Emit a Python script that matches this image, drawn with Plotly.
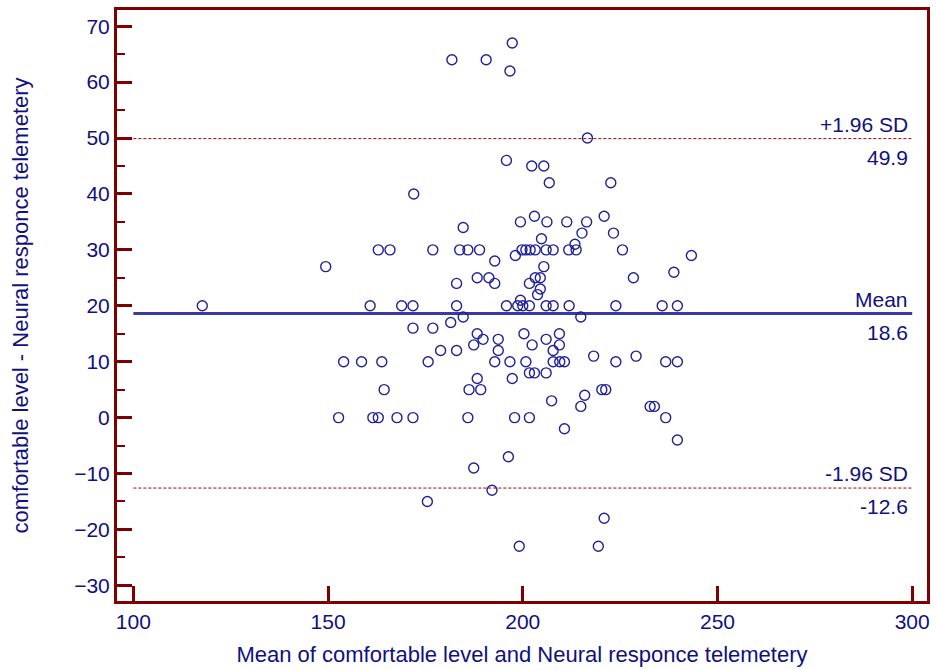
import plotly.graph_objects as go

# Bland-Altman data: mean (x) and difference (y)
x_mean = [
    197.3, 181.8, 190.6, 196.7, 216.6, 195.8, 202.3, 205.4, 206.8, 222.6,
    172.0, 203.0, 220.9, 184.7, 199.4, 206.2, 211.3, 216.4, 215.2, 223.3,
    204.8, 213.4,
    162.9, 165.9, 176.9, 183.8, 185.9, 188.9, 199.8, 200.8, 201.9, 203.2,
    206.0, 207.8, 211.8, 213.7, 225.6,
    198.1, 243.3, 192.8, 149.4, 205.4, 238.8,
    188.3, 191.3, 203.2, 204.5, 228.4,
    183.0, 192.8, 201.7, 204.5, 203.8, 199.4,
    117.7, 160.8, 168.9, 171.8, 183.0, 195.8, 198.7, 200.0, 201.7, 206.0,
    207.8, 211.9, 223.9, 235.8, 239.7,
    184.7, 214.9, 181.5, 171.8, 176.9,
    188.3, 200.3, 209.4, 189.8, 193.7, 206.0, 187.4, 202.4, 209.4,
    178.9, 183.0, 193.7, 207.8, 218.2, 229.1,
    154.0, 158.6, 163.8, 175.7, 192.8, 196.7, 200.8, 207.8, 209.5, 210.7,
    223.9, 236.7, 239.7,
    201.7, 203.0, 206.0, 188.3, 197.3,
    164.4, 186.2, 189.2, 220.3, 221.3, 215.9, 207.4, 214.9, 232.7, 233.8,
    152.7, 161.5, 162.9, 167.7, 171.8, 185.9, 197.9, 201.7, 236.7,
    210.7, 239.7, 196.3, 187.4, 192.1, 175.5, 220.9, 199.1, 219.4,
]
y_diff = [
    67, 64, 64, 62, 50, 46, 45, 45, 42, 42,
    40, 36, 36, 34, 35, 35, 35, 35, 33, 33,
    32, 31,
    30, 30, 30, 30, 30, 30, 30, 30, 30, 30,
    30, 30, 30, 30, 30,
    29, 29, 28, 27, 27, 26,
    25, 25, 25, 25, 25,
    24, 24, 24, 23, 22, 21,
    20, 20, 20, 20, 20, 20, 20, 20, 20, 20,
    20, 20, 20, 20, 20,
    18, 18, 17, 16, 16,
    15, 15, 15, 14, 14, 14, 13, 13, 13,
    12, 12, 12, 12, 11, 11,
    10, 10, 10, 10, 10, 10, 10, 10, 10, 10,
    10, 10, 10,
    8, 8, 8, 7, 7,
    5, 5, 5, 5, 5, 4, 3, 2, 2, 2,
    0, 0, 0, 0, 0, 0, 0, 0, 0,
    -2, -4, -7, -9, -13, -15, -18, -23, -23,
]

mean_diff = 18.6
upper_loa = 49.9
lower_loa = -12.6
line_x = [100, 300]

x_ticks = [100, 150, 200, 250, 300]
y_ticks = [-30, -20, -10, 0, 10, 20, 30, 40, 50, 60, 70]

NAVY = "#10107f"
MAROON = "#800000"
FONT = "Liberation Sans, Arial, sans-serif"

fig = go.Figure()

for lv in (upper_loa, lower_loa):
    fig.add_trace(go.Scatter(
        x=line_x, y=[lv, lv], mode="lines",
        line=dict(color="#a80000", width=1, dash="3px,2px"),
        hoverinfo="skip", showlegend=False))
fig.add_trace(go.Scatter(
    x=line_x, y=[mean_diff, mean_diff], mode="lines",
    line=dict(color="#3a3aa4", width=3),
    hoverinfo="skip", showlegend=False))

fig.add_trace(go.Scatter(
    x=x_mean, y=y_diff, mode="markers",
    marker=dict(symbol="circle-open", size=10, color="#20209a",
                line=dict(width=1.4, color="#20209a")),
    showlegend=False))

def label(text, y, above):
    fig.add_annotation(
        x=300, y=y, xref="x", yref="y", text=text, showarrow=False,
        xanchor="right", yanchor="bottom" if above else "top",
        xshift=-2, yshift=1 if above else -5,
        font=dict(family=FONT, size=21, color=NAVY))

label("+1.96 SD", upper_loa, True)
label(f"{upper_loa:.1f}", upper_loa, False)
label("Mean", mean_diff, True)
label(f"{mean_diff:.1f}", mean_diff, False)
label("-1.96 SD", lower_loa, True)
label(f"{lower_loa:.1f}", lower_loa, False)

axis_common = dict(
    showline=True, linecolor=MAROON, linewidth=3, mirror=True,
    showgrid=False, zeroline=False,
    ticks="inside", ticklen=15, tickwidth=3, tickcolor=MAROON,
    tickfont=dict(family=FONT, size=21, color=NAVY),
)

fig.update_layout(
    width=936, height=670,
    margin=dict(l=117, r=6, t=10, b=68),
    paper_bgcolor="white", plot_bgcolor="white",
    font=dict(family=FONT, size=21, color=NAVY),
    xaxis=dict(
        range=[95.8, 303.8], tickvals=x_ticks,
        title=dict(text="Mean of comfortable level and Neural responce telemetery",
                   font=dict(family=FONT, size=22, color=NAVY), standoff=15),
        **axis_common),
    yaxis=dict(
        range=[-32.8, 72.9], tickvals=y_ticks,
        minor=dict(ticks="inside", ticklen=8, tickwidth=2, tickcolor=MAROON,
                   dtick=5, tick0=0),
        title=dict(text="comfortable level - Neural responce telemetery",
                   font=dict(family=FONT, size=22, color=NAVY), standoff=40),
        **axis_common),
)

fig.write_html("out.html")
